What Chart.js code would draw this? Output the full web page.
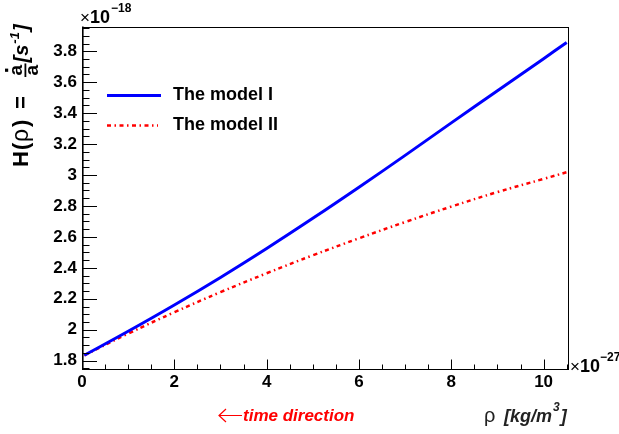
<!DOCTYPE html>
<html>
<head>
<meta charset="utf-8">
<script src="https://cdn.jsdelivr.net/npm/chart.js@4.4.1/dist/chart.umd.min.js"></script>
<style>
html,body{margin:0;padding:0;background:#fff;}
#wrap{width:619px;height:434px;position:relative;}
</style>
</head>
<body>
<div id="wrap"><canvas id="c" width="619" height="434"></canvas></div>
<script>
// ---- data ----
const rho = [0.05, 1, 2, 3, 4, 5, 6, 7, 8, 9, 10, 10.5];           // x 10^-27 kg/m^3
const modelI = [1.835, 1.990, 2.160, 2.338, 2.525, 2.720, 2.921, 3.127, 3.337, 3.545, 3.752, 3.857]; // x 10^-18 s^-1
const modelII = [1.835, 1.975, 2.113, 2.243, 2.365, 2.481, 2.591, 2.696, 2.796, 2.890, 2.975, 3.018];
const seriesNames = ["The model I", "The model II"];
const xTickValues = [0, 2, 4, 6, 8, 10];
const xTickLabels = ["0", "2", "4", "6", "8", "10"];
const yTickValues = [1.8, 2.0, 2.2, 2.4, 2.6, 2.8, 3.0, 3.2, 3.4, 3.6, 3.8];
const yTickLabels = ["1.8", "2", "2.2", "2.4", "2.6", "2.8", "3", "3.2", "3.4", "3.6", "3.8"];
const xRange = [0, 10.55];
const yRange = [1.743, 3.96];

const FONT = "'Liberation Sans', Arial, Helvetica, sans-serif";
const BLUE = '#0000ff', RED = '#ff0000';

const pts = (ys) => rho.map((x, i) => ({x: x, y: ys[i]}));

const rootDecor = {
  id: 'rootDecor',
  afterDraw(chart) {
    const ctx = chart.ctx, ca = chart.chartArea;
    const xs = chart.scales.x, ys = chart.scales.y;
    ctx.save();
    // frame
    ctx.strokeStyle = '#000';
    ctx.lineWidth = 1;
    ctx.strokeRect(Math.round(ca.left) + 0.5, Math.round(ca.top) + 0.5,
                   Math.round(ca.right - ca.left) - 1, Math.round(ca.bottom - ca.top) - 1);
    ctx.lineWidth = 1.6;
    ctx.beginPath();
    ctx.moveTo(Math.round(ca.left) + 0.8, ca.top); ctx.lineTo(Math.round(ca.left) + 0.8, ca.bottom);
    ctx.stroke();
    // y ticks (inward)
    ctx.lineWidth = 1;
    ctx.beginPath();
    for (let k = 0; k <= 60; k++) {
      const v = 1.70 + k * 0.05;
      if (v < yRange[0] - 1e-9 || v > yRange[1] + 1e-9) continue;
      const p = Math.round(ys.getPixelForValue(v)) + 0.5;
      const major = Math.abs((v * 10) % 2) < 1e-6 || Math.abs((v * 10) % 2 - 2) < 1e-6;
      const len = major ? 15 : 7.5;
      ctx.moveTo(ca.left, p); ctx.lineTo(ca.left + len, p);
    }
    // x ticks (inward)
    for (let k = 0; k <= 30; k++) {
      const v = k * 0.5;
      if (v > xRange[1] + 1e-9) continue;
      const p = Math.round(xs.getPixelForValue(v)) + 0.5;
      const major = (k % 4) === 0;
      const len = major ? 10 : 5;
      ctx.moveTo(p, ca.bottom); ctx.lineTo(p, ca.bottom - len);
    }
    ctx.stroke();

    // exponent labels
    ctx.fillStyle = '#000';
    ctx.textBaseline = 'alphabetic';
    ctx.textAlign = 'left';
    ctx.font = '17px ' + FONT;
    ctx.fillText('\u00d7', 80, 23);
    ctx.font = 'bold 18px ' + FONT;
    ctx.fillText('10', 90, 23);
    ctx.font = 'bold 12px ' + FONT;
    ctx.fillText('\u221218', 111, 12);

    ctx.font = '17px ' + FONT;
    ctx.fillText('\u00d7', 570, 372);
    ctx.font = 'bold 18px ' + FONT;
    ctx.fillText('10', 580, 372);
    ctx.font = 'bold 12px ' + FONT;
    ctx.fillText('\u221227', 600, 361);

    // legend
    ctx.lineWidth = 3;
    ctx.strokeStyle = BLUE;
    ctx.beginPath(); ctx.moveTo(107, 95.5); ctx.lineTo(161, 95.5); ctx.stroke();
    ctx.strokeStyle = RED;
    ctx.lineWidth = 2.5;
    ctx.setLineDash([4, 3.5, 1.5, 3.5]);
    ctx.beginPath(); ctx.moveTo(107, 125.5); ctx.lineTo(158, 125.5); ctx.stroke();
    ctx.setLineDash([]);
    ctx.fillStyle = '#000';
    ctx.font = 'bold 18px ' + FONT;
    ctx.textBaseline = 'middle';
    ctx.fillText(seriesNames[0], 173, 95.5);
    ctx.fillText(seriesNames[1], 173, 125.5);

    // x title
    ctx.textBaseline = 'alphabetic';
    ctx.fillStyle = '#222';
    ctx.font = '20px ' + FONT;
    ctx.fillText('\u03c1', 484, 422);
    ctx.font = 'italic bold 18px ' + FONT;
    ctx.fillText('[kg/m', 504, 422);
    let w = ctx.measureText('[kg/m').width;
    ctx.font = 'italic bold 12px ' + FONT;
    ctx.fillText('3', 504 + w + 1, 411);
    let w3 = ctx.measureText('3').width;
    ctx.font = 'italic bold 18px ' + FONT;
    ctx.fillText(']', 504 + w + w3 + 2, 422);

    // time direction
    ctx.fillStyle = RED;
    ctx.strokeStyle = RED;
    ctx.lineWidth = 1.2;
    ctx.beginPath();
    ctx.moveTo(219, 415.5); ctx.lineTo(242, 415.5);
    ctx.moveTo(226, 409); ctx.lineTo(219, 415.5); ctx.lineTo(226, 422);
    ctx.stroke();
    ctx.font = 'italic bold 17px ' + FONT;
    ctx.fillText('time direction', 243, 421);

    // y title (rotated)
    ctx.fillStyle = '#000';
    ctx.translate(28, 167);
    ctx.rotate(-Math.PI / 2);
    ctx.textBaseline = 'alphabetic';
    ctx.font = 'bold 22px ' + FONT;
    ctx.fillText('H', 0, 0);
    ctx.fillText('(', 17, 0);
    ctx.font = '23px ' + FONT;
    ctx.fillText('\u03c1', 25, 0);
    ctx.font = 'bold 22px ' + FONT;
    ctx.fillText(')', 40, 0);
    ctx.fillText('=', 58, 0);
    // fraction
    ctx.font = 'bold 19px ' + FONT;
    const fx = 90;
    const aw = ctx.measureText('a').width;
    const fw = aw + 3;
    ctx.fillText('a', fx + 1.5, -6);
    ctx.fillRect(fx + 1.5 + aw / 2 - 1.6, -23, 3.2, 3.2);
    ctx.fillRect(fx, -3.5, fw, 1.8);
    ctx.fillText('a', fx + 1.5, 10);
    let x = fx + fw + 1;
    ctx.font = 'italic bold 20px ' + FONT;
    ctx.fillText('[s', x, 0); x += ctx.measureText('[s').width + 1;
    ctx.font = 'italic bold 13px ' + FONT;
    ctx.fillText('-1', x, -9); x += ctx.measureText('-1').width + 1;
    ctx.font = 'italic bold 20px ' + FONT;
    ctx.fillText(']', x, 0);
    ctx.restore();
  }
};

new Chart(document.getElementById('c'), {
  type: 'scatter',
  data: {
    datasets: [
      { label: seriesNames[0], data: pts(modelI), showLine: true, borderColor: BLUE,
        borderWidth: 3, pointRadius: 0, tension: 0.4, fill: false },
      { label: seriesNames[1], data: pts(modelII), showLine: true, borderColor: RED,
        borderWidth: 2.5, borderDash: [4, 3.5, 1.5, 3.5], pointRadius: 0, tension: 0.4, fill: false }
    ]
  },
  options: {
    responsive: false,
    animation: false,
    devicePixelRatio: 1,
    layout: { padding: { top: 26.5, right: 50, left: 0, bottom: 0 } },
    plugins: { legend: { display: false }, tooltip: { enabled: false } },
    scales: {
      x: {
        type: 'linear', min: xRange[0], max: xRange[1],
        grid: { display: false, drawTicks: false },
        border: { display: false },
        afterFit: (s) => { s.height = 64.5; },
        afterBuildTicks: (s) => { s.ticks = xTickValues.map(v => ({ value: v })); },
        ticks: {
          padding: 3, color: '#000', maxRotation: 0, autoSkip: false,
          font: { family: FONT, size: 17, weight: 'bold' },
          callback: (v) => { const i = xTickValues.indexOf(v); return i >= 0 ? xTickLabels[i] : ''; }
        }
      },
      y: {
        type: 'linear', min: yRange[0], max: yRange[1],
        grid: { display: false, drawTicks: false },
        border: { display: false },
        afterFit: (s) => { s.width = 82; },
        afterBuildTicks: (s) => { s.ticks = yTickValues.map(v => ({ value: v })); },
        ticks: {
          padding: 5, color: '#000', autoSkip: false,
          font: { family: FONT, size: 17, weight: 'bold' },
          callback: (v) => { const i = yTickValues.findIndex(t => Math.abs(t - v) < 1e-9); return i >= 0 ? yTickLabels[i] : ''; }
        }
      }
    }
  },
  plugins: [rootDecor]
});
</script>
</body>
</html>
